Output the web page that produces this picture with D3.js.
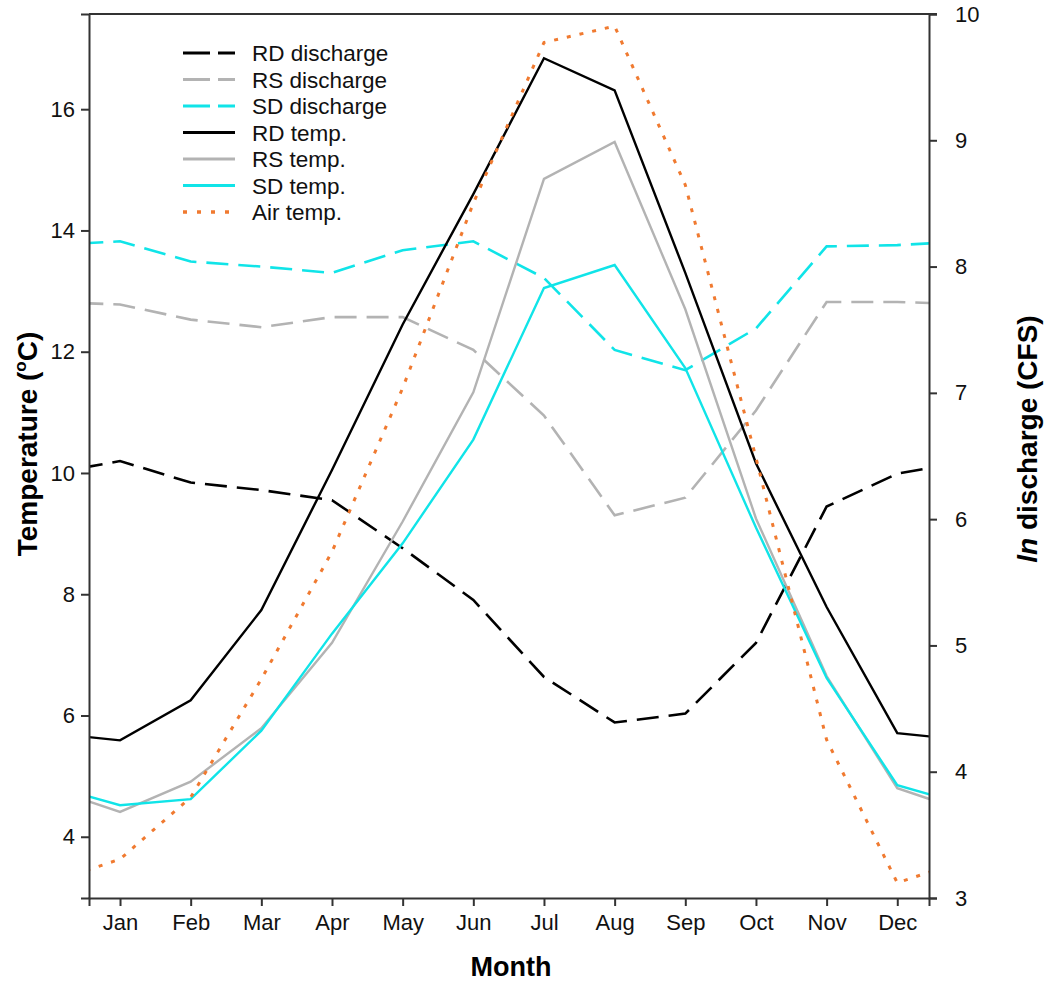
<!DOCTYPE html>
<html>
<head>
<meta charset="utf-8">
<script src="https://cdn.jsdelivr.net/npm/d3@7"></script>
<style>
  body { margin: 0; background: #fff; }
  svg { font-family: "Liberation Sans", Arial, sans-serif; }
  .tick text { font-size: 22px; fill: #111; }
  .domain, .tick line { stroke: #333; stroke-width: 2px; }
</style>
</head>
<body>
<svg id="chart" width="1045" height="982"></svg>
<script>
// Monthly data (Jan..Dec)
const months = ['Jan', 'Feb', 'Mar', 'Apr', 'May', 'Jun', 'Jul', 'Aug', 'Sep', 'Oct', 'Nov', 'Dec'];

// ln discharge (CFS) - right axis
const rdDischarge = [6.46, 6.29, 6.23, 6.15, 5.77, 5.36, 4.75, 4.39, 4.46, 5.02, 6.10, 6.36];
const rsDischarge = [7.70, 7.58, 7.52, 7.60, 7.60, 7.34, 6.82, 6.03, 6.17, 6.86, 7.72, 7.72];
const sdDischarge = [8.20, 8.04, 8.00, 7.95, 8.13, 8.20, 7.91, 7.34, 7.18, 7.51, 8.16, 8.17];

// Temperature (deg C) - left axis
const rdTemp  = [5.59, 6.25, 7.74, 10.05, 12.45, 14.6, 16.84, 16.31, 13.3, 10.16, 7.79, 5.71];
const rsTemp  = [4.41, 4.91, 5.79, 7.20, 9.20, 11.33, 14.85, 15.46, 12.7, 9.25, 6.65, 4.80];
const sdTemp  = [4.52, 4.62, 5.75, 7.35, 8.84, 10.55, 13.05, 13.43, 11.73, 9.10, 6.62, 4.85];
const airTemp = [3.63, 4.65, 6.60, 8.70, 11.40, 14.45, 17.10, 17.37, 14.75, 10.25, 5.60, 3.24];

const tempTicks = [4, 6, 8, 10, 12, 14, 16];
const dischargeTicks = [3, 4, 5, 6, 7, 8, 9, 10];

const series = [
    { name: 'RD discharge', values: rdDischarge, axis: 'q', color: '#000000', dash: '22,10', width: 2.6 },
    { name: 'RS discharge', values: rsDischarge, axis: 'q', color: '#b3b3b3', dash: '22,10', width: 2.6 },
    { name: 'SD discharge', values: sdDischarge, axis: 'q', color: '#10e4e8', dash: '22,10', width: 2.6 },
    { name: 'RD temp.', values: rdTemp, axis: 't', color: '#000000', dash: null, width: 2.4 },
    { name: 'RS temp.', values: rsTemp, axis: 't', color: '#b3b3b3', dash: null, width: 2.4 },
    { name: 'SD temp.', values: sdTemp, axis: 't', color: '#10e4e8', dash: null, width: 2.4 },
    { name: 'Air temp.', values: airTemp, axis: 't', color: '#f07a30', dash: '4,9', width: 3 }
];

const svg = d3.select('#chart');
const plotLeft = 89, plotRight = 929, plotTop = 14, plotBottom = 898;

const x = d3.scaleLinear().domain([0.561, 12.449]).range([plotLeft, plotRight]);
const yT = d3.scaleLinear().domain([2.99, 17.57]).range([plotBottom, plotTop]);
const yQ = d3.scaleLinear().domain([3, 10]).range([plotBottom, plotTop]);

svg.append('clipPath').attr('id', 'plot-clip')
    .append('rect')
    .attr('x', plotLeft).attr('y', plotTop)
    .attr('width', plotRight - plotLeft).attr('height', plotBottom - plotTop);

// Wrap the year around so the lines run to both edges
function wrapped(values) {
    const pts = values.map((v, i) => [i + 1, v]);
    return [[0, values[11]]].concat(pts, [[13, values[0]]]);
}

const plot = svg.append('g').attr('clip-path', 'url(#plot-clip)');

series.forEach(s => {
    const yScale = s.axis === 't' ? yT : yQ;
    const line = d3.line().x(d => x(d[0])).y(d => yScale(d[1]));
    plot.append('path')
        .datum(wrapped(s.values))
        .attr('d', line)
        .attr('fill', 'none')
        .attr('stroke', s.color)
        .attr('stroke-width', s.width)
        .attr('stroke-dasharray', s.dash);
});

// Frame top line
svg.append('line')
    .attr('x1', plotLeft).attr('x2', plotRight + 8)
    .attr('y1', plotTop).attr('y2', plotTop)
    .attr('stroke', '#333').attr('stroke-width', 2);

// Axes
svg.append('g')
    .attr('transform', 'translate(' + plotLeft + ',0)')
    .call(d3.axisLeft(yT).tickValues(tempTicks).tickSizeOuter(0).tickSize(8).tickPadding(6));

svg.append('g')
    .attr('transform', 'translate(' + plotRight + ',0)')
    .call(d3.axisRight(yQ).tickValues(dischargeTicks).tickFormat(d3.format('d'))
        .tickSizeOuter(0).tickSize(8).tickPadding(18));

svg.append('g')
    .attr('transform', 'translate(0,' + plotBottom + ')')
    .call(d3.axisBottom(x).tickValues(d3.range(1, 13)).tickFormat(d => months[d - 1])
        .tickSizeOuter(0).tickSize(8).tickPadding(8));

// Axis titles
svg.append('text')
    .attr('x', 511).attr('y', 976)
    .attr('text-anchor', 'middle')
    .attr('font-size', 27).attr('font-weight', 'bold')
    .text('Month');

const lt = svg.append('text')
    .attr('transform', 'translate(37,444) rotate(-90)')
    .attr('text-anchor', 'middle')
    .attr('font-size', 28).attr('font-weight', 'bold');
lt.append('tspan').text('Temperature (');
lt.append('tspan').attr('font-size', 17).attr('dy', -11).text('o');
lt.append('tspan').attr('dy', 11).text('C)');

const rt = svg.append('text')
    .attr('transform', 'translate(1037,439) rotate(-90)')
    .attr('text-anchor', 'middle')
    .attr('font-size', 28).attr('font-weight', 'bold');
rt.append('tspan').attr('font-style', 'italic').text('ln');
rt.append('tspan').text(' discharge (CFS)');

// Legend
const legend = svg.append('g').attr('transform', 'translate(183,53)');
series.forEach((s, i) => {
    const row = legend.append('g').attr('transform', 'translate(0,' + (i * 26.5) + ')');
    row.append('line')
        .attr('x1', 0).attr('x2', 52)
        .attr('y1', 0).attr('y2', 0)
        .attr('stroke', s.color)
        .attr('stroke-width', s.width + 0.4)
        .attr('stroke-dasharray', s.dash ? (s.dash === '4,9' ? '4,10' : '27,8') : null);
    row.append('text')
        .attr('x', 69).attr('y', 0).attr('dy', '0.36em')
        .attr('font-size', 22.5).attr('fill', '#111')
        .text(s.name);
});
</script>
</body>
</html>
